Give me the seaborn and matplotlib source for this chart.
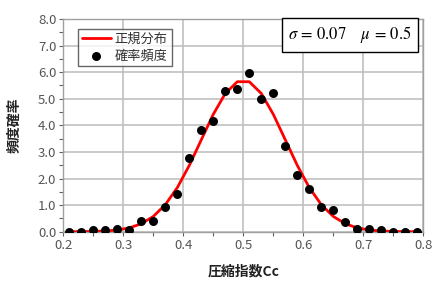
import matplotlib
matplotlib.use("Agg")
import matplotlib.pyplot as plt
import seaborn as sns
import pandas as pd
from matplotlib.ticker import MultipleLocator

# Data
x_vals = [0.21, 0.23, 0.25, 0.27, 0.29, 0.31, 0.33, 0.35, 0.37, 0.39,
          0.41, 0.43, 0.45, 0.47, 0.49, 0.51, 0.53, 0.55, 0.57, 0.59,
          0.61, 0.63, 0.65, 0.67, 0.69, 0.71, 0.73, 0.75, 0.77, 0.79]
freq_vals = [0.00, 0.00, 0.05, 0.05, 0.09, 0.05, 0.40, 0.41, 0.92, 1.40,
             2.76, 3.81, 4.17, 5.28, 5.36, 5.98, 5.00, 5.23, 3.21, 2.12,
             1.60, 0.92, 0.82, 0.37, 0.09, 0.10, 0.05, 0.00, 0.00, 0.00]
normal_vals = [0.001, 0.003, 0.010, 0.026, 0.063, 0.143, 0.299, 0.574, 1.016, 1.658,
               2.494, 3.457, 4.416, 5.199, 5.641, 5.641, 5.199, 4.416, 3.457, 2.494,
               1.658, 1.016, 0.574, 0.299, 0.143, 0.063, 0.026, 0.010, 0.003, 0.001]
legend_labels = ["正規分布", "確率頻度"]
x_label = "圧縮指数Cc"
y_label = "頻度確率"
annot = r"$\sigma\,=\,0.07\quad\;\mu\,=\,0.5$"

sns.set_theme(style="white")
plt.rcParams['font.family'] = ['Noto Sans CJK JP', 'DejaVu Sans']
plt.rcParams['mathtext.fontset'] = 'stix'

df = pd.DataFrame({"x": x_vals, "freq": freq_vals, "normal": normal_vals})

fig = plt.figure(figsize=(4.36, 2.83), dpi=100)
ax = fig.add_axes([63.3/436, 1 - 231.7/283, 360/436, (231.7-19)/283])

sns.lineplot(data=df, x="x", y="normal", ax=ax, color="#ff0000", linewidth=2.0,
             label=legend_labels[0], zorder=3)
sns.scatterplot(data=df, x="x", y="freq", ax=ax, color="black", s=42,
                edgecolor="black", linewidth=0, label=legend_labels[1], zorder=4)

ax.set_xlim(0.2, 0.8)
ax.set_ylim(0, 8)
ax.xaxis.set_major_locator(MultipleLocator(0.1))
ax.xaxis.set_minor_locator(MultipleLocator(0.05))
ax.yaxis.set_major_locator(MultipleLocator(1.0))
ax.yaxis.set_minor_locator(MultipleLocator(0.5))
ax.set_xticklabels([f"{v:.1f}" for v in ax.get_xticks()])
ax.set_yticklabels([f"{v:.1f}" for v in ax.get_yticks()])
ax.grid(True, which="major", color="#c0c0c0", linewidth=1.2, zorder=0)
ax.set_axisbelow(True)
for s in ax.spines.values():
    s.set_color("#a0a0a0")
    s.set_linewidth(1.0)
ax.tick_params(axis="both", which="major", direction="out", length=3, width=0.8,
               color="#606060", labelsize=9.5, labelcolor="#555555", pad=2)
ax.tick_params(axis="both", which="minor", direction="out", length=3, width=0.8,
               color="#606060")
ax.tick_params(axis="x", which="both", bottom=True)
ax.tick_params(axis="y", which="both", left=True)

ax.set_xlabel(x_label, fontsize=10, fontweight="bold", color="#222222", labelpad=9)
ax.set_ylabel(y_label, fontsize=10, fontweight="bold", color="#222222", labelpad=12)

leg = ax.legend(loc="upper left", bbox_to_anchor=(0.04, 0.955), frameon=True,
                fancybox=False, edgecolor="#404040", fontsize=9.5,
                handlelength=2.2, borderpad=0.3, labelspacing=0.3,
                handletextpad=0.3, borderaxespad=0)
leg.get_frame().set_linewidth(1.0)
for t in leg.get_texts():
    t.set_color("#333333")

ax.text(0.968, 0.975, annot, transform=ax.transAxes, ha="right", va="top",
        fontsize=12, color="black",
        bbox=dict(boxstyle="square,pad=0.4", facecolor="white", edgecolor="black",
                  linewidth=1.0))

fig.savefig("out.png", dpi=100)
